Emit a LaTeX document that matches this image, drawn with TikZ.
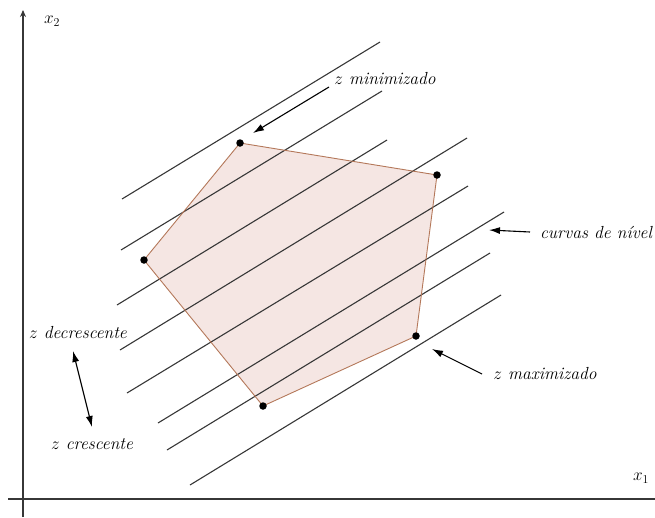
\documentclass[tikz,border=0pt]{standalone}
\usetikzlibrary{arrows.meta}
\definecolor{regionfill}{RGB}{245,230,227}
\definecolor{regionedge}{RGB}{180,120,90}
\definecolor{linegray}{RGB}{55,55,55}
\tikzset{
  level/.style={draw=linegray,line width=1.1pt},
  axisline/.style={draw=linegray,line width=1.1pt},
  vertexdot/.style={circle,fill=black,inner sep=0pt,minimum size=7.5pt},
  lbl/.style={font=\fontsize{17.5}{20}\selectfont\itshape,inner sep=1pt},
  pointer/.style={draw=black,line width=1.1pt,-{Latex[length=11pt,width=7pt]}},
}
\begin{document}
\begin{tikzpicture}[x=1pt,y=-1pt]
\useasboundingbox (0,0) rectangle (655,517);
% axes
\draw[axisline,-{Stealth[length=7pt,width=6pt]}] (23,517) -- (23,10);
\draw[axisline] (8,499) -- (655,499);
\node[lbl] (x2) at (52,21) {$x_2$};
\node[lbl] (x1) at (641,478) {$x_1$};
% feasible region
\coordinate (A) at (240,143);
\coordinate (B) at (437,175);
\coordinate (C) at (416,336);
\coordinate (D) at (263,406);
\coordinate (E) at (144,260);
\fill[regionfill] (A) -- (B) -- (C) -- (D) -- (E) -- cycle;
% level curves
\draw[level] (122,199) -- (380,42);
\draw[level] (121,250) -- (382,91);
\draw[level] (117,305) -- (387,140);
\draw[level] (120,350) -- (467,138);
\draw[level] (127,393) -- (468,186);
\draw[level] (158,423) -- (504,212);
\draw[level] (167,450) -- (490,253);
\draw[level] (190,485) -- (501,295);
\draw[regionedge,line width=0.9pt] (A) -- (B) -- (C) -- (D) -- (E) -- cycle;
\foreach \v in {A,B,C,D,E} \node[vertexdot] at (\v) {};
% labels and pointers
\node[lbl] (zmin) at (385,79) {$z$ minimizado};
\coordinate (minS) at (329,87);
\coordinate (minT) at (253,133);
\draw[pointer] (minS) -- (minT);
\node[lbl] (curv) at (596,232) {curvas de n\'{\i}vel};
\coordinate (curS) at (530,232);
\coordinate (curT) at (489,230);
\draw[pointer] (curS) -- (curT);
\node[lbl] (zmax) at (545,374) {$z$ maximizado};
\coordinate (maxS) at (482,374);
\coordinate (maxT) at (432,349);
\draw[pointer] (maxS) -- (maxT);
\node[lbl] (zdec) at (78,333) {$z$ decrescente};
\node[lbl] (zcre) at (92,444) {$z$ crescente};
\coordinate (dA) at (73,351);
\coordinate (dB) at (92,427);
\draw[draw=black,line width=1.1pt,{Latex[length=11pt,width=7pt]}-{Latex[length=11pt,width=7pt]}] (dA) -- (dB);
\end{tikzpicture}
\end{document}
